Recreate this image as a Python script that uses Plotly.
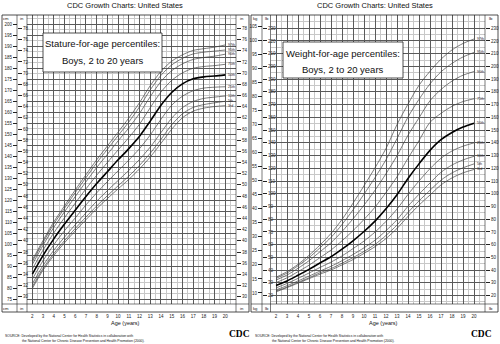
import plotly.graph_objects as go

# ---------------- data ----------------
ages = list(range(2, 21))
pct_labels = ["3rd", "5th", "10th", "25th", "50th", "75th", "90th", "95th", "97th"]

# Stature-for-age (cm), boys
stature_p3 = [80.0, 88.3, 94.9, 100.7, 106.1, 111.2, 116.2, 120.8, 125.2, 129.5, 134.3, 139.7, 145.9, 152.3, 157.5, 160.5, 161.9, 162.6, 163.0]
stature_p5 = [80.8, 89.1, 95.8, 101.7, 107.2, 112.4, 117.4, 122.1, 126.6, 131.0, 135.9, 141.4, 147.7, 154.3, 159.3, 162.2, 163.5, 164.3, 165.0]
stature_p10 = [82.1, 90.4, 97.3, 103.3, 108.9, 114.3, 119.6, 124.4, 129.0, 133.6, 138.6, 144.2, 150.8, 157.3, 162.1, 164.9, 166.3, 166.9, 167.4]
stature_p25 = [84.2, 92.6, 99.8, 106.2, 112.0, 117.9, 123.4, 128.5, 133.4, 138.3, 143.5, 149.7, 156.8, 163.2, 167.3, 169.8, 171.0, 171.4, 171.6]
stature_p50 = [86.5, 95.0, 102.5, 109.2, 115.5, 121.7, 127.6, 133.0, 138.4, 143.5, 149.1, 156.0, 163.2, 169.0, 172.9, 175.2, 176.1, 176.5, 177.0]
stature_p75 = [88.8, 97.4, 105.2, 112.1, 118.7, 125.2, 131.4, 137.2, 142.9, 148.5, 154.6, 162.1, 169.2, 174.5, 177.9, 180.0, 180.8, 181.2, 181.8]
stature_p90 = [90.9, 99.6, 107.7, 114.8, 121.7, 128.4, 134.9, 140.9, 147.0, 152.9, 159.5, 167.1, 174.0, 178.9, 182.0, 184.0, 184.9, 185.5, 186.4]
stature_p95 = [92.2, 100.9, 109.2, 116.4, 123.5, 130.3, 137.0, 143.2, 149.4, 155.6, 162.5, 170.2, 176.8, 181.5, 184.5, 186.5, 187.3, 187.8, 188.3]
stature_p97 = [93.0, 101.8, 110.2, 117.5, 124.7, 131.6, 138.4, 144.7, 151.0, 157.4, 164.4, 172.1, 178.6, 183.2, 186.1, 188.1, 188.9, 189.6, 190.6]

# Weight-for-age (kg), boys
weight_p3 = [10.4, 11.9, 13.5, 15.1, 16.7, 18.2, 20.0, 21.9, 24.1, 26.5, 29.4, 33.0, 37.3, 41.3, 44.9, 48.5, 51.0, 52.8, 54.0]
weight_p5 = [10.7, 12.1, 13.8, 15.4, 17.2, 18.7, 20.6, 22.6, 24.8, 27.3, 30.5, 34.2, 38.7, 42.8, 46.6, 50.2, 52.8, 54.6, 56.0]
weight_p10 = [11.1, 12.6, 14.3, 16.0, 17.8, 19.5, 21.5, 23.7, 26.1, 28.8, 32.2, 36.1, 40.9, 45.2, 49.2, 53.0, 55.6, 57.4, 58.7]
weight_p25 = [11.8, 13.4, 15.2, 17.1, 19.1, 21.0, 23.2, 25.8, 28.5, 31.7, 35.5, 39.9, 45.1, 49.9, 54.3, 58.0, 60.6, 62.3, 63.5]
weight_p50 = [12.7, 14.3, 16.3, 18.4, 20.7, 22.9, 25.6, 28.6, 31.9, 35.6, 40.0, 45.0, 50.8, 56.0, 60.8, 64.6, 67.2, 69.1, 70.5]
weight_p75 = [13.7, 15.4, 17.6, 19.9, 22.6, 25.3, 28.6, 32.2, 36.2, 40.6, 45.8, 51.4, 58.0, 64.3, 70.8, 74.0, 76.5, 78.2, 79.2]
weight_p90 = [14.6, 16.4, 18.8, 21.5, 24.7, 27.9, 31.9, 36.4, 41.3, 46.6, 52.5, 58.9, 66.2, 72.4, 78.5, 82.5, 85.5, 87.6, 88.9]
weight_p95 = [15.2, 17.1, 19.7, 22.6, 26.1, 29.8, 34.4, 39.6, 45.2, 51.1, 57.5, 65.0, 72.7, 79.0, 84.5, 88.8, 91.8, 94.1, 95.7]
weight_p97 = [15.6, 17.6, 20.2, 23.4, 27.1, 31.2, 36.2, 42.0, 48.2, 54.6, 61.5, 70.0, 77.3, 84.0, 89.0, 93.3, 96.6, 98.9, 100.5]

cm_ticks = list(range(75, 201, 5))
in_ticks = list(range(30, 79, 2))
kg_ticks = list(range(10, 106, 5))
lb_ticks = list(range(20, 231, 10))
age_ticks = list(range(2, 21))

stature_series = [stature_p3, stature_p5, stature_p10, stature_p25, stature_p50,
                  stature_p75, stature_p90, stature_p95, stature_p97]
weight_series = [weight_p3, weight_p5, weight_p10, weight_p25, weight_p50,
                 weight_p75, weight_p90, weight_p95, weight_p97]
LB_PER_KG = 2.20462
CM_PER_IN = 2.54

# ---------------- layout helpers ----------------
W, H = 500, 344
def px(x):
    return x / W
def py(y):
    return 1 - y / H

FONT = "Arial, Liberation Sans, sans-serif"
MAJ = "#5a5a5a"
MIN = "#c8c8c8"

fig = go.Figure()

cm_range = [72.9, 204.2]
lb_range = [13.4, 240.4]
age_range = [1.5, 21.0]

for lab, s in zip(pct_labels, stature_series):
    bold = lab == "50th"
    fig.add_trace(go.Scatter(x=ages, y=s, mode="lines", xaxis="x", yaxis="y",
                             line=dict(color="#000" if bold else "#444", width=1.6 if bold else 0.7,
                                       shape="spline", smoothing=0.8),
                             showlegend=False, hoverinfo="skip"))
    fig.add_annotation(x=ages[-1] + 0.1, y=s[-1], xref="x", yref="y", text=lab,
                       showarrow=False, xanchor="left", font=dict(size=3.6, family=FONT, color="#222"))

for lab, s in zip(pct_labels, weight_series):
    bold = lab == "50th"
    lb = [v * LB_PER_KG for v in s]
    fig.add_trace(go.Scatter(x=ages, y=lb, mode="lines", xaxis="x2", yaxis="y2",
                             line=dict(color="#000" if bold else "#444", width=1.6 if bold else 0.7,
                                       shape="spline", smoothing=0.8),
                             showlegend=False, hoverinfo="skip"))
    fig.add_annotation(x=ages[-1] + 0.1, y=lb[-1], xref="x2", yref="y2", text=lab,
                       showarrow=False, xanchor="left", font=dict(size=3.6, family=FONT, color="#222"))

for xa, ya in [("x", "y3"), ("x", "y4"), ("x", "y5"), ("x3", "y"),
               ("x2", "y6"), ("x2", "y7"), ("x2", "y8"), ("x4", "y2")]:
    fig.add_trace(go.Scatter(x=[None], y=[None], xaxis=xa, yaxis=ya, showlegend=False, hoverinfo="skip"))

grid_common = dict(showticklabels=False, ticks="", zeroline=False, showline=False, showgrid=True,
                   gridcolor=MAJ, gridwidth=0.8)
L_dom = [px(27), px(236)]
R_dom = [px(270.5), px(485)]
Y_dom = [py(304), py(15)]

tickfont = dict(size=4.5, family=FONT, color="#222")
lab_axis = dict(showgrid=False, zeroline=False, showline=False, ticks="outside", ticklen=4,
                tickwidth=0.6, tickcolor="#222", tickfont=tickfont, anchor="free")

fig.update_layout(
    width=W, height=H, margin=dict(l=0, r=0, t=0, b=0),
    paper_bgcolor="white", plot_bgcolor="white",
    xaxis=dict(domain=L_dom, range=age_range, dtick=1, tick0=0, anchor="y",
               minor=dict(dtick=0.5, showgrid=True, gridcolor=MIN, gridwidth=0.7), **grid_common),
    yaxis=dict(domain=Y_dom, range=cm_range, dtick=5, tick0=0, anchor="x",
               minor=dict(dtick=2.5, showgrid=True, gridcolor=MIN, gridwidth=0.6), **grid_common),
    xaxis2=dict(domain=R_dom, range=age_range, dtick=1, tick0=0, anchor="y2",
                minor=dict(dtick=0.5, showgrid=True, gridcolor=MIN, gridwidth=0.7), **grid_common),
    yaxis2=dict(domain=Y_dom, range=lb_range, dtick=10, tick0=0, anchor="x2",
                minor=dict(dtick=5, showgrid=True, gridcolor=MIN, gridwidth=0.6), **grid_common),
    yaxis3=dict(overlaying="y", position=px(17), side="left", range=cm_range, tickvals=cm_ticks, **lab_axis),
    yaxis4=dict(overlaying="y", position=px(17), side="right",
                range=[v / CM_PER_IN for v in cm_range], tickvals=in_ticks, **lab_axis),
    yaxis5=dict(overlaying="y", position=px(236), side="right",
                range=[v / CM_PER_IN for v in cm_range], tickvals=in_ticks, **lab_axis),
    xaxis3=dict(overlaying="x", position=py(312), side="bottom", range=age_range, tickvals=age_ticks,
                showgrid=False, zeroline=False, showline=False, ticks="", tickfont=tickfont, anchor="free"),
    yaxis6=dict(overlaying="y2", position=px(262), side="left",
                range=[v / LB_PER_KG for v in lb_range], tickvals=kg_ticks, **lab_axis),
    yaxis7=dict(overlaying="y2", position=px(262), side="right", range=lb_range, tickvals=lb_ticks, **lab_axis),
    yaxis8=dict(overlaying="y2", position=px(485), side="right", range=lb_range, tickvals=lb_ticks, **lab_axis),
    xaxis4=dict(overlaying="x2", position=py(312), side="bottom", range=age_range, tickvals=age_ticks,
                showgrid=False, zeroline=False, showline=False, ticks="", tickfont=tickfont, anchor="free"),
)

shapes = []
def line(x0, y0, x1, y1, w=0.8, c="#222"):
    shapes.append(dict(type="line", xref="paper", yref="paper", x0=px(x0), y0=py(y0), x1=px(x1), y1=py(y1),
                       line=dict(color=c, width=w), layer="above"))
def rect(x0, y0, x1, y1, w=0.8, fill="rgba(0,0,0,0)"):
    shapes.append(dict(type="rect", xref="paper", yref="paper", x0=px(x0), y0=py(y0), x1=px(x1), y1=py(y1),
                       line=dict(color="#222", width=w), fillcolor=fill, layer="above"))

rect(2, 15, 249, 312)
for xx in (17, 27, 236):
    line(xx, 15, xx, 312, 0.6)
line(2, 304, 249, 304, 0.6)
rect(251, 15, 498, 312)
for xx in (262, 270.5, 485):
    line(xx, 15, xx, 312, 0.6)
line(251, 304, 498, 304, 0.6)
rect(43, 33, 162, 72, 0.8, "white")
rect(283, 42, 403, 78, 0.8, "white")
fig.update_layout(shapes=shapes)

def ann(x, y, text, size, xanchor="center", family=FONT, color="#111"):
    fig.add_annotation(x=px(x), y=py(y), xref="paper", yref="paper", text=text, showarrow=False,
                       xanchor=xanchor, yanchor="middle", font=dict(size=size, family=family, color=color))

ann(125, 5.5, "CDC Growth Charts: United States", 7.5)
ann(375, 5.5, "CDC Growth Charts: United States", 7.5)
ann(102.5, 43, "Stature-for-age percentiles:", 9.5)
ann(102.5, 61, "Boys, 2 to 20 years", 9.5)
ann(343, 53, "Weight-for-age percentiles:", 9.5)
ann(343, 69, "Boys, 2 to 20 years", 9.5)
for (x, y, t) in [(6, 19, "cm"), (22, 19, "in"), (242, 19, "in"), (6, 308, "cm"), (22, 308, "in"), (242, 308, "in"),
                  (255, 19, "kg"), (267, 19, "lb"), (491, 19, "lb"), (255, 308, "kg"), (267, 308, "lb"), (491, 308, "lb")]:
    ann(x, y, t, 4.2)
ann(125, 323, "Age (years)", 5.5)
ann(383, 323, "Age (years)", 5.5)
src1 = "SOURCE: Developed by the National Center for Health Statistics in collaboration with"
src2 = "the National Center for Chronic Disease Prevention and Health Promotion (2000)."
ann(3, 336, src1, 3.4, "left")
ann(20, 340.5, src2, 3.4, "left")
ann(253, 336, src1, 3.4, "left")
ann(270, 340.5, src2, 3.4, "left")
ann(239, 334, "<b>CDC</b>", 9.5, "center", "Liberation Serif, serif", "#000")
ann(481, 334, "<b>CDC</b>", 9.5, "center", "Liberation Serif, serif", "#000")

fig.write_html("out.html")
